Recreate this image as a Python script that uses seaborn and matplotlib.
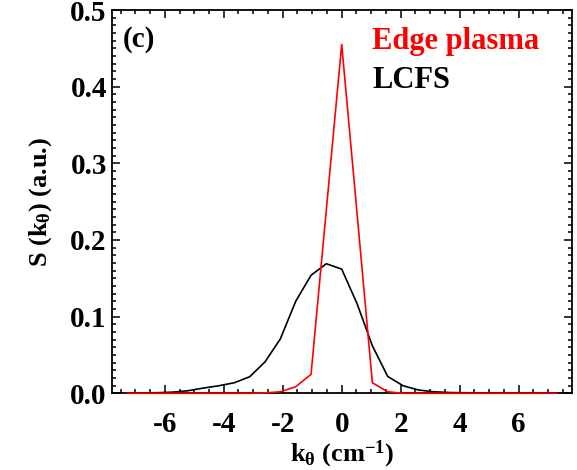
import numpy as np
import pandas as pd
import matplotlib
matplotlib.use("Agg")
import matplotlib.pyplot as plt
from matplotlib.ticker import MultipleLocator, FormatStrFormatter
import seaborn as sns

# Wavenumber grid (cm^-1), step of the spectral estimate
dk = 0.52
k_index = list(range(-14, 15))

# Spectral power S(k_theta) at the last closed flux surface
s_lcfs = [0.0002, 0.0004, 0.0008, 0.0015, 0.0034, 0.0069, 0.0099, 0.0138,
          0.0216, 0.041, 0.071, 0.120, 0.154, 0.169, 0.162, 0.117, 0.062,
          0.022, 0.0099, 0.0043, 0.0020, 0.0010, 0.0007, 0.0005, 0.0004,
          0.0003, 0.0003, 0.0002, 0.0002]

# Spectral power S(k_theta) in the edge plasma
s_edge = [0.0, 0.0, 0.0, 0.0, 0.0, 0.0, 0.0, 0.0, 0.0, 0.0005, 0.002,
          0.0086, 0.0247, 0.24, 0.455, 0.235, 0.0138, 0.002, 0.0, 0.0,
          0.0, 0.0, 0.0, 0.0, 0.0, 0.0, 0.0, 0.0, 0.0]

series_names = ["Edge plasma", "LCFS"]
series_colors = ["#ff0000", "#000000"]

k_vals = [n * dk for n in k_index]
df = pd.concat([
    pd.DataFrame({"k": k_vals, "S": s_edge, "region": series_names[0]}),
    pd.DataFrame({"k": k_vals, "S": s_lcfs, "region": series_names[1]}),
])

sns.set_style("ticks")
plt.rcParams["font.family"] = ["Liberation Serif", "DejaVu Serif"]
plt.rcParams["font.weight"] = "bold"
plt.rcParams["axes.labelcolor"] = "black"
plt.rcParams["text.color"] = "black"
plt.rcParams["mathtext.fontset"] = "custom"
plt.rcParams["mathtext.rm"] = "Liberation Serif:bold"
plt.rcParams["mathtext.it"] = "Liberation Serif:bold"
plt.rcParams["mathtext.bf"] = "Liberation Serif:bold"

fig = plt.figure(figsize=(5.77, 4.70), dpi=100)
ax = fig.add_axes([0.1936, 0.1632, 0.7972, 0.8155])

sns.lineplot(data=df[df.region == "LCFS"], x="k", y="S", color=series_colors[1],
             lw=1.2, ax=ax, legend=False, clip_on=False, zorder=3)
sns.lineplot(data=df[df.region == "Edge plasma"], x="k", y="S", color=series_colors[0],
             lw=1.2, ax=ax, legend=False, clip_on=False, zorder=4)

ax.set_xlim(-7.8, 7.8)
ax.set_ylim(0, 0.5)
ax.xaxis.set_major_locator(MultipleLocator(2))
ax.xaxis.set_minor_locator(MultipleLocator(0.5))
ax.yaxis.set_major_locator(MultipleLocator(0.1))
ax.yaxis.set_minor_locator(MultipleLocator(0.01))
ax.yaxis.set_major_formatter(FormatStrFormatter("%.1f"))
ax.xaxis.set_major_formatter(FormatStrFormatter("%d"))

ax.tick_params(which="both", direction="in", top=True, right=True,
               width=1.1, colors="black", labelsize=21)
ax.tick_params(which="major", length=6)
ax.tick_params(which="minor", length=3)
ax.tick_params(axis="x", which="major", pad=13)
for lab in ax.get_xticklabels() + ax.get_yticklabels():
    lab.set_fontweight("bold")
for sp in ax.spines.values():
    sp.set_visible(True)
    sp.set_linewidth(1.3)
    sp.set_color("black")

ax.set_xlabel(r"k$_\theta$ (cm$^{-1}$)", fontsize=19, fontweight="bold", labelpad=0)
ax.set_ylabel(r"S (k$_\theta$) (a.u.)", fontsize=19, fontweight="bold", labelpad=12)

ax.text(0.025, 0.905, "(c)", transform=ax.transAxes, fontsize=21,
        fontweight="bold", color="black")
ax.text(0.566, 0.898, series_names[0], transform=ax.transAxes, fontsize=22,
        fontweight="bold", color=series_colors[0])
ax.text(0.566, 0.796, series_names[1], transform=ax.transAxes, fontsize=22,
        fontweight="bold", color=series_colors[1])

fig.savefig("out.png", dpi=100)
